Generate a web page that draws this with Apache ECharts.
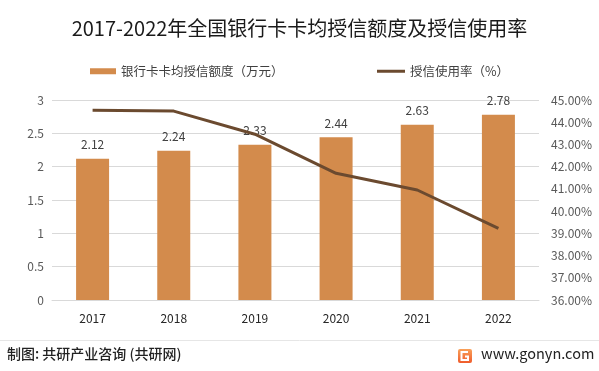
<!DOCTYPE html>
<html><head><meta charset="utf-8">
<script src="https://cdn.jsdelivr.net/npm/echarts@6/dist/echarts.min.js"></script>
<style>html,body{margin:0;padding:0;background:#fff}#c{width:599px;height:371px}</style>
</head><body><div id="c"></div>
<script>
var categories = ['2017','2018','2019','2020','2021','2022'];
var creditLine = [2.12, 2.24, 2.33, 2.44, 2.63, 2.78];
var usageRate = [44.54, 44.50, 43.46, 41.70, 40.95, 39.22];
var leftTicks = {min: 0, max: 3, interval: 0.5};
var rightTicks = {min: 36, max: 45, interval: 1};
var titleText = '2017-2022年全国银行卡卡均授信额度及授信使用率';
var barName = '银行卡卡均授信额度（万元）';
var lineName = '授信使用率（%）';
var sourceText = '制图: 共研产业咨询 (共研网)';
var siteText = 'www.gonyn.com';

var font = '"Noto Sans CJK SC", "Noto Sans", sans-serif';
var chart = echarts.init(document.getElementById('c'));
chart.setOption({
  animation: false,
  textStyle: {fontFamily: font},
  title: {text: titleText, left: 'center', top: 13,
    textStyle: {fontSize: 20, fontWeight: 'normal', color: '#1a1a1a', fontFamily: font}},
  legend: [
    {data: [{name: barName, icon: 'rect'}], left: 85, top: 60, itemWidth: 26, itemHeight: 6,
     textStyle: {fontSize: 12.5, color: '#404040'}},
    {data: [{name: lineName, icon: 'rect'}], left: 372, top: 60, itemWidth: 28, itemHeight: 3,
     textStyle: {fontSize: 12.5, color: '#404040'}}
  ],
  grid: {left: 52, right: 60, top: 100, bottom: 71},
  xAxis: {type: 'category', data: categories,
    axisLine: {lineStyle: {color: '#d9d9d9'}}, axisTick: {show: false},
    axisLabel: {color: '#262626', fontSize: 12, margin: 12}},
  yAxis: [
    {type: 'value', min: leftTicks.min, max: leftTicks.max, interval: leftTicks.interval,
     axisLine: {show: false}, axisTick: {show: false},
     axisLabel: {color: '#595959', fontSize: 12, margin: 8},
     splitLine: {lineStyle: {color: '#d9d9d9'}}},
    {type: 'value', min: rightTicks.min, max: rightTicks.max, interval: rightTicks.interval,
     axisLine: {show: false}, axisTick: {show: false}, splitLine: {show: false},
     axisLabel: {color: '#595959', fontSize: 12, margin: 12,
       formatter: function(v){return v.toFixed(2) + '%';}}}
  ],
  series: [
    {name: barName, type: 'bar', data: creditLine, barWidth: 33,
     itemStyle: {color: '#D38B4C'},
     label: {show: true, position: 'top', color: '#404040', fontSize: 12, distance: 8}},
    {name: lineName, type: 'line', yAxisIndex: 1, data: usageRate, symbol: 'none',
     lineStyle: {color: '#6B4A2F', width: 3}, itemStyle: {color: '#6B4A2F'}}
  ],
  graphic: [
    {type: 'line', shape: {x1: 0, y1: 340.5, x2: 599, y2: 340.5}, style: {stroke: '#e6e6e6', lineWidth: 1}},
    {type: 'text', left: 7, top: 347, style: {text: sourceText, font: '500 14px ' + font, fill: '#222'}},
    {type: 'rect', shape: {x: 458, y: 349, width: 14, height: 14, r: 2},
     style: {fill: new echarts.graphic.LinearGradient(0, 0, 0, 1, [{offset: 0, color: '#F9A15A'}, {offset: 1, color: '#EF5B2B'}])}},
    {type: 'polyline', shape: {points: [[468, 352], [461.5, 352], [461.5, 360], [468, 360], [468, 356.5], [465, 356.5]]},
     style: {stroke: '#fff', lineWidth: 2, fill: null}},
    {type: 'text', left: 481, top: 346, style: {text: siteText, font: '14.5px ' + font, fill: '#222'}}
  ]
});
</script></body></html>
